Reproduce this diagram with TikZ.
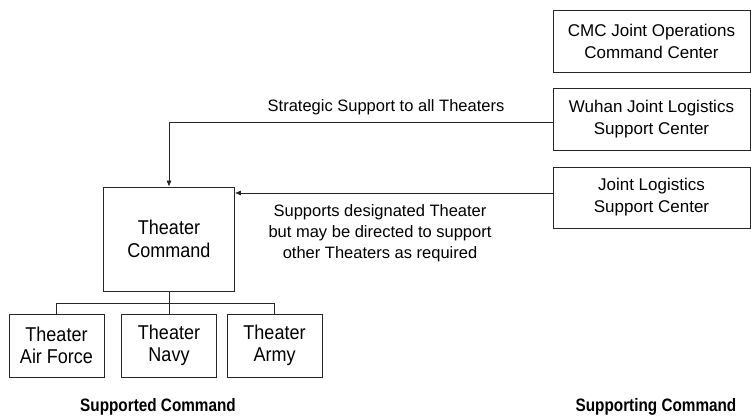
\documentclass[tikz,border=0pt]{standalone}
\usepackage{fontspec}
\setmainfont{Liberation Sans}
\newfontfamily\narrowfont[FakeStretch=0.9]{Liberation Sans}
\newfontfamily\headfont[FakeStretch=0.85]{Liberation Sans}
\usetikzlibrary{arrows.meta}
\tikzset{
  unit/.style={draw=black!85, line width=0.7pt, align=center, inner sep=0pt},
  rightbox/.style={unit, minimum width=197pt, minimum height=62pt, font=\fontsize{17}{22}\selectfont},
  armbox/.style={unit, minimum width=95pt, minimum height=63pt, font=\narrowfont\fontsize{20}{22.5}\selectfont},
  link/.style={draw=black!85, line width=0.7pt},
  note/.style={align=center, font=\fontsize{16.5}{21}\selectfont},
  foot/.style={font=\headfont\bfseries\fontsize{18}{20}\selectfont}
}
\begin{document}
\begin{tikzpicture}[x=1pt,y=-1pt]
        \useasboundingbox (0,0) rectangle (751,419);
        % supporting side
        \node[rightbox] (cmc) at (651.5,41) {CMC Joint Operations\\Command Center};
        \node[rightbox] (wuhan) at (651.5,119) {Wuhan Joint Logistics\\Support Center};
        \node[rightbox, minimum height=61pt] (jlsc) at (651.5,197.5) {Joint Logistics\\Support Center};
        % supported side
        \node[armbox, minimum width=131pt, minimum height=104pt] (tc) at (169,239) {Theater\\Command};
        \node[armbox] (air) at (56.5,345.5) {Theater\\Air Force};
        \node[armbox] (navy) at (169,345.5) {Theater\\Navy};
        \node[armbox] (army) at (274.5,345.5) {Theater\\Army};
        \draw[link] (tc.south) -- (navy.north);
        \draw[link] (air.north) -- ++(0,-10) -| (army.north);
        % support lines
        \draw[link, -{Latex[length=6pt,width=5pt]}] ([yshift=-3pt]wuhan.west) -| (tc.north);
        \draw[link, -{Latex[length=6pt,width=5pt]}] ([yshift=4.5pt]jlsc.west) -- ([yshift=4.5pt]jlsc.west -| tc.east);
        \node[note] (strat) at (386,107) {Strategic Support to all Theaters};
        \node[note] (desig) at (380,233) {Supports designated Theater\\but may be directed to support\\other Theaters as required};
        % footers
        \node[foot] (supported) at (158,407) {Supported Command};
        \node[foot] (supporting) at (656,407) {Supporting Command};
\end{tikzpicture}
\end{document}
